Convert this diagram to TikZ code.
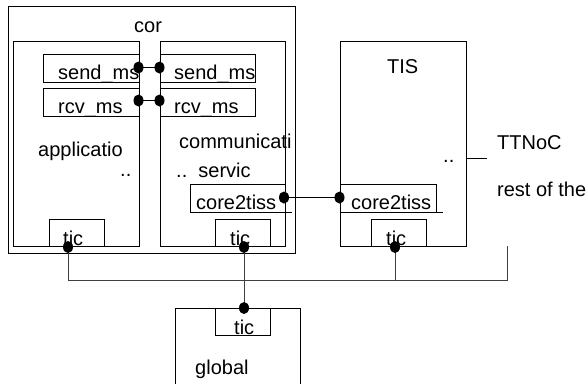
\documentclass[tikz,border=0pt]{standalone}
\usepackage{fontspec}
\setmainfont{Liberation Sans}
\usetikzlibrary{shapes.geometric}
\begin{document}
\begin{tikzpicture}[x=1pt,y=-1pt,
  box/.style={draw=black,line width=0.9pt,inner sep=0pt,anchor=north west},
  lbl/.style={inner sep=0pt,anchor=base west,font=\fontsize{20}{22}\selectfont},
  wire/.style={draw=black!75,line width=0.9pt},
  pin/.style={ellipse,fill=black,inner sep=0pt,minimum width=10pt,minimum height=12pt}]
\useasboundingbox (0,0) rectangle (586,383);

% core and its two partitions
\node[box,minimum width=287pt,minimum height=247pt] (core) at (8,6) {};
\node[box,minimum width=126pt,minimum height=205pt] (app) at (13,41) {};
\node[box,minimum width=125pt,minimum height=205pt] (comm) at (160,41) {};

% message ports
\node[box,minimum width=96pt,minimum height=28pt] (sendL) at (43,54) {};
\node[box,minimum width=96pt,minimum height=28pt] (rcvL) at (43,88) {};
\node[box,minimum width=95pt,minimum height=28pt] (sendR) at (160,54) {};
\node[box,minimum width=95pt,minimum height=28pt] (rcvR) at (160,88) {};

% core-to-TISS interfaces
\node[box,minimum width=95pt,minimum height=28pt] (ctL) at (190,184) {};
\draw[line width=0.9pt] (ctL.south east) -- ++(6,0);
\node[box,minimum width=126pt,minimum height=205pt] (tis) at (340,41) {};
\node[box,minimum width=96pt,minimum height=28pt] (ctR) at (340,184) {};
\draw[line width=0.9pt] (ctR.south east) -- ++(6,0);

% time interface ports
\node[box,minimum width=55pt,minimum height=27pt] (ticA) at (49,219) {};
\node[box,minimum width=55pt,minimum height=27pt] (ticC) at (215,219) {};
\node[box,minimum width=55pt,minimum height=27pt] (ticT) at (371,219) {};

% global time base
\coordinate (gBL) at (175,390);
\coordinate (gTL) at (175,308);
\coordinate (gTR) at (300,308);
\coordinate (gBR) at (300,390);
\draw[line width=0.9pt] (gBL) -- (gTL) -- (gTR) -- (gBR);
\node[box,minimum width=55pt,minimum height=27pt] (ticG) at (215,308) {};

% labels
\node[lbl] (tCor) at (134,32) {cor};
\node[lbl] (tSendL) at (58,79) {send\_ms};
\node[lbl] (tRcvL) at (58,113) {rcv\_ms};
\node[lbl] (tSendR) at (174,79) {send\_ms};
\node[lbl] (tRcvR) at (174,113) {rcv\_ms};
\node[lbl] (tApp) at (38,156) {applicatio};
\node[lbl] (tDotsA) at (120,176) {..};
\node[lbl] (tComm) at (179,148) {communicati};
\node[lbl] (tServ) at (176,177) {..\ \ servic};
\node[lbl] (tCtL) at (196,209) {core2tiss};
\node[lbl] (tTis) at (387,73) {TIS};
\node[lbl] (tDotsT) at (443,162) {..};
\node[lbl] (tCtR) at (351,209) {core2tiss};
\node[lbl] (tTTNoC) at (497,149) {TTNoC};
\node[lbl] (tRest) at (497,196) {rest of the};
\node[lbl] (tTicA) at (63,245) {tic};
\node[lbl] (tTicC) at (230,245) {tic};
\node[lbl] (tTicT) at (386,245) {tic};
\node[lbl] (tTicG) at (234,334) {tic};
\node[lbl] (tGlobal) at (195,374) {global};

% connection points
\coordinate (pS1) at (138.5,67.5);
\coordinate (pS2) at (159.5,67.5);
\coordinate (pR1) at (138.5,100.5);
\coordinate (pR2) at (159.5,100.5);
\coordinate (pC1) at (284,197.5);
\coordinate (pC2) at (339.5,197.5);
\coordinate (pA) at (68,247);
\coordinate (pC) at (244,247);
\coordinate (pT) at (395,247);
\coordinate (pG) at (244,308);
\coordinate (busA) at (68,280);
\coordinate (busT) at (395,280);
\coordinate (busE) at (507,280);
\coordinate (busTop) at (507,246);
\coordinate (nocA) at (466,158);
\coordinate (nocB) at (487,158);

% wires
\draw[line width=0.9pt] (pS1) -- (pS2);
\draw[line width=0.9pt] (pR1) -- (pR2);
\draw[line width=0.9pt] (pC1) -- (pC2);
\draw[wire] (pA) -- (busA) -- (busE) -- (busTop);
\draw[wire] (pT) -- (busT);
\draw[wire] (pC) -- (pG);
\draw[line width=0.9pt] (nocA) -- (nocB);

% junction dots
\foreach \p in {pS1,pS2,pR1,pR2,pC1,pC2,pA,pC,pT,pG}
  \node[pin] (dot-\p) at (\p) {};
\end{tikzpicture}
\end{document}
